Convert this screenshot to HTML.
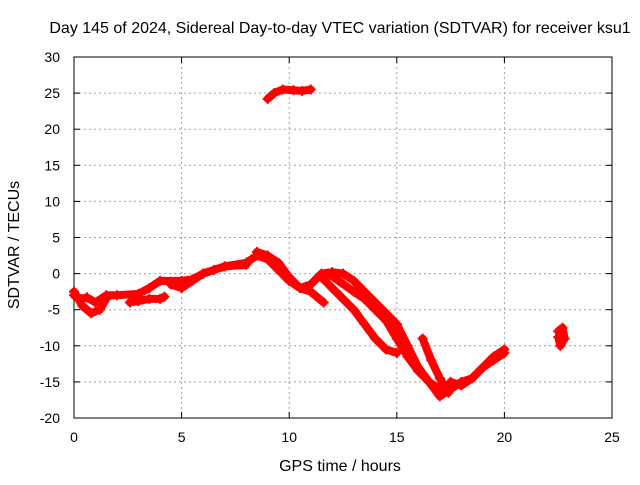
<!DOCTYPE html>
<html><head><meta charset="utf-8"><style>
body{margin:0;background:#fff;}
svg text{font-family:"Liberation Sans",sans-serif;font-size:14px;fill:#000;}
svg text.big{font-size:16px;}
</style></head><body>
<svg id="chart" width="640" height="480" xmlns="http://www.w3.org/2000/svg">
<text class="big" x="340" y="33" text-anchor="middle">Day 145 of 2024, Sidereal Day-to-day VTEC variation (SDTVAR) for receiver ksu1</text>
<g id="grid"></g>
<g id="axes"></g>
<g id="series"></g>
<text class="big" x="340" y="471" text-anchor="middle">GPS time / hours</text>
<text class="big" transform="translate(19,245) rotate(-90)" text-anchor="middle">SDTVAR / TECUs</text>
</svg>
<script>
const xTicks=[0,5,10,15,20,25];
const yTicks=[-20,-15,-10,-5,0,5,10,15,20,25,30];
const mainHours=[0,0.3,0.6,1,1.5,2,3,3.5,4,5,5.5,6,6.5,7,8,8.5,9,9.5,10,10.5,11,11.5,12,12.5,13,13.5,14,15,15.5,16,16.5,17,17.5,18,18.5,19,19.5,20];
const mainVals=[-3,-3.5,-3.3,-4,-3,-3,-2.8,-2,-1,-1,-0.8,0,0.5,1,1.5,2.5,2,0.5,-1,-2,-1.5,0,0.2,0,-1,-2.5,-4,-7,-10,-13,-15,-17,-16,-15,-14.5,-13,-12,-11];
const lowHours=[0,0.4,0.8,1.2,1.5];
const lowVals=[-2.5,-4.5,-5.5,-5,-3.5];
const br1Hours=[2.6,3,3.5,4,4.2];
const br1Vals=[-4,-3.8,-3.5,-3.5,-3.2];
const br2Hours=[4.5,5,5.5,6,7,8];
const br2Vals=[-1.5,-2,-1,0,1,1.2];
const br3Hours=[8.5,9,9.5,10,10.5,11,11.6];
const br3Vals=[3,2.5,1.5,-0.5,-2,-2.5,-4];
const br4Hours=[11.5,12,12.5,13,13.5,14,14.5,15];
const br4Vals=[-0.5,-2,-3.5,-5,-7,-9,-10.5,-11];
const br5Hours=[11.8,12.3,13,13.5,14,14.5,15,15.5,16,16.5,17];
const br5Vals=[0,-1,-2.5,-3.5,-5,-6.5,-9,-11.5,-13.5,-15,-16];
const br6Hours=[16.2,16.6,17,17.4];
const br6Vals=[-9,-12,-14.5,-16.5];
const br7Hours=[17.5,18,18.5,19,19.5,20];
const br7Vals=[-15,-15.5,-14.5,-13,-11.5,-10.5];
const topHours=[9,9.3,9.7,10.2,10.6,11];
const topVals=[24.2,25,25.5,25.4,25.3,25.5];
const isleHours=[22.5,22.7,22.8,22.6,22.5];
const isleVals=[-8,-7.5,-9,-10,-8.8];
const allSeries=[[mainHours,mainVals],[lowHours,lowVals],[br1Hours,br1Vals],[br2Hours,br2Vals],[br3Hours,br3Vals],[br4Hours,br4Vals],[br5Hours,br5Vals],[br6Hours,br6Vals],[br7Hours,br7Vals],[topHours,topVals],[isleHours,isleVals]];

const L=74,R=612,T=57,B=418;
const xs=h=>L+(h-0)/25*(R-L);
const ys=v=>B-(v+20)/50*(B-T);
const NS="http://www.w3.org/2000/svg";
function mk(tag,attrs,parent){const e=document.createElementNS(NS,tag);for(const k in attrs)e.setAttribute(k,attrs[k]);parent.appendChild(e);return e;}
const grid=document.getElementById('grid'),axes=document.getElementById('axes'),ser=document.getElementById('series');
xTicks.forEach(t=>{const x=xs(t);
 if(t>0&&t<25){const g=mk('line',{x1:x,x2:x,y1:T,y2:B,stroke:'#a0a0a0','stroke-dasharray':'2,3'},grid);
 
 }
 mk('line',{x1:x,x2:x,y1:B,y2:B-6,stroke:'#000'},axes);mk('line',{x1:x,x2:x,y1:T,y2:T+6,stroke:'#000'},axes);
 const tx=mk('text',{x:x,y:B+24,'text-anchor':'middle'},axes);tx.textContent=t;
 
 });
yTicks.forEach(t=>{const y=ys(t);
 if(t>-20&&t<30){const g=mk('line',{x1:L,x2:R,y1:y,y2:y,stroke:'#a0a0a0','stroke-dasharray':'2,3'},grid);
 
 }
 mk('line',{x1:L,x2:L+6,y1:y,y2:y,stroke:'#000'},axes);mk('line',{x1:R,x2:R-6,y1:y,y2:y,stroke:'#000'},axes);
 const tx=mk('text',{x:L-14,y:y+5,'text-anchor':'end'},axes);tx.textContent=t;
 
 });
const fr=mk('rect',{x:L,y:T,width:R-L,height:B-T,fill:'none',stroke:'#000'},axes);


allSeries.forEach(([hs,vs])=>{
 const pts=hs.map((h,i)=>xs(h)+','+ys(vs[i])).join(' ');
 const pl=mk('polyline',{points:pts,fill:'none',stroke:'#ff0000','stroke-width':8,'stroke-linejoin':'round','stroke-linecap':'round'},ser);
 
 
 hs.forEach((h,i)=>{const x=xs(h),y=ys(vs[i]);
  const p=mk('path',{d:`M${x-5},${y}H${x+5}M${x},${y-5}V${y+5}`,stroke:'#ff0000','stroke-width':2},ser);
  
  });
});
</script>
</body></html>
